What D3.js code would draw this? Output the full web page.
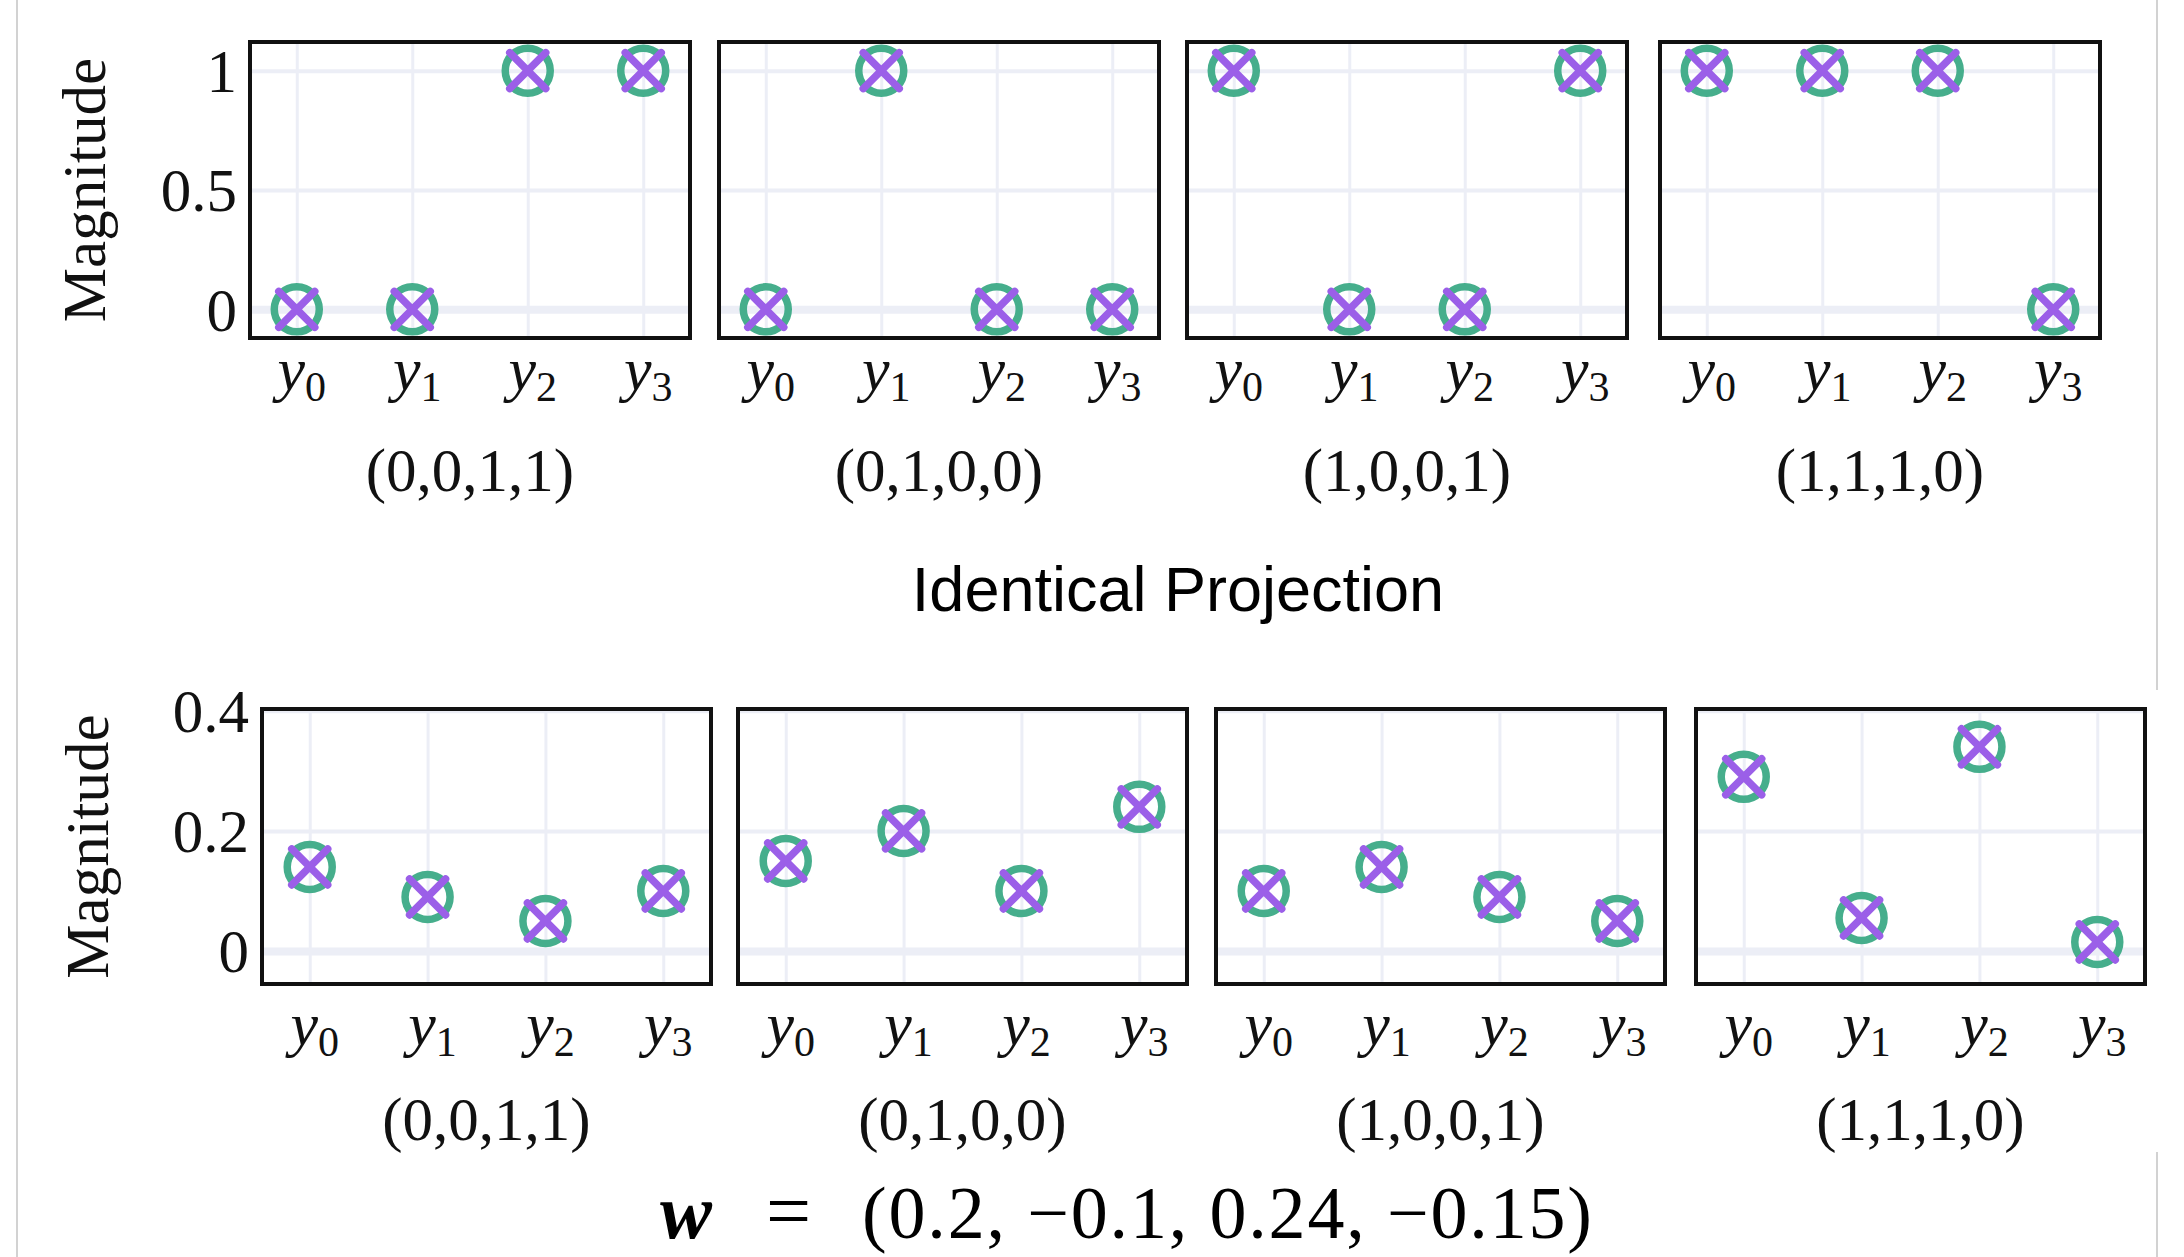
<!DOCTYPE html>
<html>
<head>
<meta charset="utf-8">
<script src="https://cdn.jsdelivr.net/npm/d3@7"></script>
<style>
  body { margin: 0; background: #fff; }
  svg { display: block; }
</style>
</head>
<body>
<div class="figure"></div>
<script>
// data
const components = [0, 1, 2, 3];               // y_0 .. y_3
const patterns = ['(0,0,1,1)', '(0,1,0,0)', '(1,0,0,1)', '(1,1,1,0)'];
const identicalValues = [
	[0, 0, 1, 1],
	[0, 1, 0, 0],
	[1, 0, 0, 1],
	[1, 1, 1, 0]
];
const projectedValues = [
	[0.14, 0.09, 0.05, 0.10],
	[0.15, 0.20, 0.10, 0.24],
	[0.10, 0.14, 0.09, 0.05],
	[0.29, 0.055, 0.34, 0.015]
];
const topTicks = [0, 0.5, 1];
const topTickLabels = ['0', '0.5', '1'];
const bottomTicks = [0, 0.2, 0.4];
const bottomTickLabels = ['0', '0.2', '0.4'];
const weights = [0.2, -0.1, 0.24, -0.15];
const title = 'Identical Projection';
const yTitle = 'Magnitude';

const width = 2184;
const height = 1257;
const serif = '"Liberation Serif", "Times New Roman", serif';
const green = '#46ae8c';
const purple = '#9b5fe8';
const gridColor = '#eceef6';

const svg = d3.select('.figure')
	.append('svg')
	.attr('width', width)
	.attr('height', height)
	.style('background', '#fff');

// page border lines
svg.append('line')
	.attr('x1', 17).attr('x2', 17).attr('y1', 0).attr('y2', height)
	.attr('stroke', '#d2d2d2').attr('stroke-width', 2);
svg.append('line')
	.attr('x1', 2157).attr('x2', 2157).attr('y1', 0).attr('y2', 690)
	.attr('stroke', '#d2d2d2').attr('stroke-width', 2);
svg.append('line')
	.attr('x1', 2157).attr('x2', 2157).attr('y1', 1152).attr('y2', height)
	.attr('stroke', '#d2d2d2').attr('stroke-width', 2);

const rows = [
	{values: identicalValues, ticks: topTicks, tickLabels: topTickLabels, yDomain: [-0.12, 1.12],
	 top: 42, bottom: 338, lefts: [250, 719, 1187, 1660], w: 440, xLabelY: 390, catLabelY: 491, yTitleX: 105},
	{values: projectedValues, ticks: bottomTicks, tickLabels: bottomTickLabels, yDomain: [-0.055, 0.403],
	 top: 709, bottom: 984, lefts: [262, 738, 1216, 1696], w: 449, xLabelY: 1045, catLabelY: 1140, yTitleX: 108}
];

rows.forEach(function(row) {
	const h = row.bottom - row.top;
	const x = d3.scaleLinear().domain([-0.405, 3.405]).range([0, row.w]);
	const y = d3.scaleLinear().domain(row.yDomain).range([h, 0]);

	// y title
	svg.append('text')
		.attr('transform', 'translate(' + row.yTitleX + ',' + (row.top + h / 2) + ') rotate(-90)')
		.attr('text-anchor', 'middle')
		.attr('font-family', serif)
		.attr('font-size', 61)
		.attr('fill', '#111')
		.text(yTitle);

	row.values.forEach(function(vals, p) {
		const g = svg.append('g')
			.attr('transform', 'translate(' + row.lefts[p] + ',' + row.top + ')');

		// horizontal grid
		const hGrid = g.append('g')
			.call(d3.axisLeft(y).tickValues(row.ticks).tickSize(-row.w).tickFormat(''));
		hGrid.select('.domain').remove();
		hGrid.selectAll('line')
			.attr('stroke', gridColor)
			.attr('stroke-width', function(d) { return d === 0 ? 8 : 4; });

		// vertical grid
		const vGrid = g.append('g')
			.attr('transform', 'translate(0,' + h + ')')
			.call(d3.axisBottom(x).tickValues(components).tickSize(-h).tickFormat(''));
		vGrid.select('.domain').remove();
		vGrid.selectAll('line')
			.attr('stroke', gridColor)
			.attr('stroke-width', 3);

		// y tick labels (first panel only)
		if (p === 0) {
			const yAxis = g.append('g')
				.call(d3.axisLeft(y).tickValues(row.ticks).tickSize(0).tickPadding(13)
					.tickFormat(function(d, i) { return row.tickLabels[i]; }));
			yAxis.select('.domain').remove();
			yAxis.selectAll('text')
				.attr('font-family', serif)
				.attr('font-size', 61)
				.attr('fill', '#111')
				.attr('dy', '0.34em');
		}

		// x tick labels y_i
		const xl = g.selectAll('.xlab')
			.data(components)
			.enter()
			.append('text')
			.attr('class', 'xlab')
			.attr('x', function(d) { return x(d) + 5; })
			.attr('y', row.xLabelY - row.top)
			.attr('text-anchor', 'middle')
			.attr('font-family', serif)
			.attr('font-size', 62)
			.attr('fill', '#111');
		xl.append('tspan')
			.attr('font-style', 'italic')
			.text('y');
		xl.append('tspan')
			.attr('font-size', 42)
			.attr('dy', 11)
			.text(function(d) { return d; });

		// category label
		g.append('text')
			.attr('x', row.w / 2)
			.attr('y', row.catLabelY - row.top)
			.attr('text-anchor', 'middle')
			.attr('font-family', serif)
			.attr('font-size', 61)
			.attr('fill', '#111')
			.text(patterns[p]);

		// frame
		g.append('rect')
			.attr('x', 0).attr('y', 0)
			.attr('width', row.w).attr('height', h)
			.attr('fill', 'none')
			.attr('stroke', '#111')
			.attr('stroke-width', 4);

		// markers: circle + x
		const pts = vals.map(function(v, i) { return {i: i, v: v}; });
		g.selectAll('.ring')
			.data(pts)
			.enter()
			.append('circle')
			.attr('class', 'ring')
			.attr('cx', function(d) { return x(d.i); })
			.attr('cy', function(d) { return y(d.v); })
			.attr('r', 22.5)
			.attr('fill', 'none')
			.attr('stroke', green)
			.attr('stroke-width', 7.5);
		g.selectAll('.cross')
			.data(pts)
			.enter()
			.append('path')
			.attr('class', 'cross')
			.attr('d', function(d) {
				const cx = x(d.i), cy = y(d.v), s = 18;
				return 'M' + (cx - s) + ',' + (cy - s) + 'L' + (cx + s) + ',' + (cy + s) +
					'M' + (cx - s) + ',' + (cy + s) + 'L' + (cx + s) + ',' + (cy - s);
			})
			.attr('stroke', purple)
			.attr('stroke-width', 7.5)
			.attr('stroke-linecap', 'round');
	});
});

// middle title
svg.append('text')
	.attr('x', 1178)
	.attr('y', 611)
	.attr('text-anchor', 'middle')
	.attr('font-family', '"Liberation Sans", Arial, sans-serif')
	.attr('font-size', 63)
	.attr('fill', '#000')
	.text(title);

// weight formula
const fmt = function(v) { return (v < 0 ? '\u2212' : '') + Math.abs(v); };
svg.append('text')
	.attr('x', 660)
	.attr('y', 1238)
	.attr('font-family', serif)
	.attr('font-size', 78)
	.attr('font-style', 'italic')
	.attr('font-weight', 'bold')
	.attr('fill', '#000')
	.text('w');
svg.append('text')
	.attr('x', 766)
	.attr('y', 1238)
	.attr('font-family', serif)
	.attr('font-size', 80)
	.attr('fill', '#000')
	.text('=');
svg.append('text')
	.attr('x', 862)
	.attr('y', 1238)
	.attr('font-family', serif)
	.attr('font-size', 74)
	.attr('fill', '#000')
	.attr('textLength', 730)
	.attr('lengthAdjust', 'spacing')
	.text('(' + weights.map(fmt).join(', ') + ')');
</script>
</body>
</html>
